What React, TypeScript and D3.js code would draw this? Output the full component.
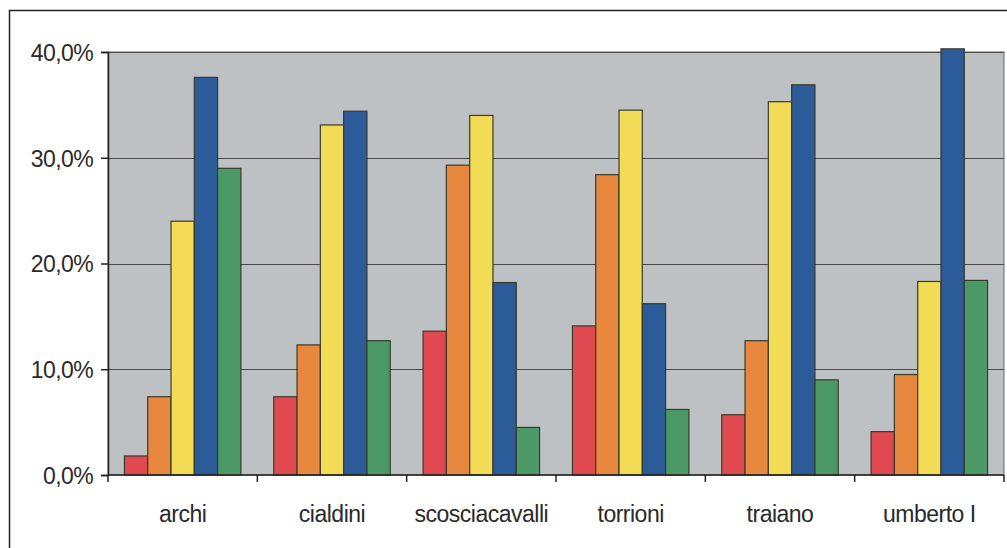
import { useEffect, useRef } from 'react'
import * as d3 from 'd3'

const categories = ['archi', 'cialdini', 'scosciacavalli', 'torrioni', 'traiano', 'umberto I']
const seriesNames = ['s1', 's2', 's3', 's4', 's5']
const seriesColors = ['#e0494f', '#e8883f', '#f2dc55', '#2b5b98', '#4b9a66']

const s1 = [1.8, 7.4, 13.6, 14.1, 5.7, 4.1]
const s2 = [7.4, 12.3, 29.3, 28.4, 12.7, 9.5]
const s3 = [24.0, 33.1, 34.0, 34.5, 35.3, 18.3]
const s4 = [37.6, 34.4, 18.2, 16.2, 36.9, 40.3]
const s5 = [29.0, 12.7, 4.5, 6.2, 9.0, 18.4]
const seriesValues = [s1, s2, s3, s4, s5]

const yTicks = [0, 10, 20, 30, 40]
const yTickLabels = ['0,0%', '10,0%', '20,0%', '30,0%', '40,0%']

const App = () => {
  const svgRef = useRef<SVGSVGElement | null>(null)

  useEffect(() => {
    if (!svgRef.current) return
    const svg = d3.select(svgRef.current)
    svg.selectAll('*').remove()

    const width = 1007
    const height = 548
    const margin = { top: 52, right: 3, bottom: 73, left: 108 }
    const innerW = width - margin.left - margin.right
    const innerH = height - margin.top - margin.bottom
    const font = '"Liberation Sans", Arial, sans-serif'

    svg.attr('width', width).attr('height', height)

    // page background + outer frame
    svg.append('rect').attr('width', width).attr('height', height).attr('fill', 'white')
    svg
      .append('path')
      .attr('d', `M9.5,${height} L9.5,10.5 L${width},10.5`)
      .attr('fill', 'none')
      .attr('stroke', '#222')
      .attr('stroke-width', 1.5)

    const g = svg.append('g').attr('transform', `translate(${margin.left},${margin.top})`)

    const x0 = d3.scaleBand().domain(categories).range([0, innerW]).paddingInner(0.22).paddingOuter(0.11)
    const x1 = d3.scaleBand().domain(seriesNames).range([0, x0.bandwidth()])
    const y = d3.scaleLinear().domain([0, 40]).range([innerH, 0])

    // plot area
    g.append('rect')
      .attr('width', innerW)
      .attr('height', innerH)
      .attr('fill', '#bec1c4')
      .attr('stroke', '#666')
      .attr('stroke-width', 1)

    // gridlines
    g.selectAll('line.grid')
      .data(yTicks.filter((t) => t > 0))
      .join('line')
      .attr('class', 'grid')
      .attr('x1', 0)
      .attr('x2', innerW)
      .attr('y1', (d) => Math.round(y(d)) + 0.5)
      .attr('y2', (d) => Math.round(y(d)) + 0.5)
      .attr('stroke', '#4a4a4a')
      .attr('stroke-width', 1.2)

    // bars
    const groups = g
      .selectAll('g.cat')
      .data(categories)
      .join('g')
      .attr('class', 'cat')
      .attr('transform', (d) => `translate(${x0(d)},0)`)

    groups
      .selectAll('rect')
      .data((_, i) => seriesValues.map((vals, k) => ({ k, v: vals[i] })))
      .join('rect')
      .attr('x', (d) => x1(seriesNames[d.k])!)
      .attr('y', (d) => y(d.v))
      .attr('width', x1.bandwidth())
      .attr('height', (d) => innerH - y(d.v))
      .attr('fill', (d) => seriesColors[d.k])
      .attr('stroke', '#3a3a2a')
      .attr('stroke-width', 1.2)

    // y axis
    const yAxis = d3
      .axisLeft(y)
      .tickValues(yTicks)
      .tickSize(7)
      .tickFormat((_, i) => yTickLabels[i])
    const yg = g.append('g').call(yAxis)
    yg.attr('font-family', font).attr('font-size', 23)
    yg.select('.domain').attr('stroke', '#222').attr('stroke-width', 1.5)
    yg.selectAll('.tick line').attr('stroke', '#222').attr('stroke-width', 1.5)
    yg.selectAll('.tick text')
      .attr('x', -15)
      .attr('dy', '0.36em')
      .attr('letter-spacing', '-0.6px')
      .attr('fill', '#2a2a2a')

    // x axis
    const xg = g.append('g').attr('transform', `translate(0,${innerH})`)
    xg.append('line')
      .attr('x1', 0)
      .attr('x2', innerW)
      .attr('stroke', '#222')
      .attr('stroke-width', 1.5)
    const step = innerW / categories.length
    xg.selectAll('line.xt')
      .data(d3.range(categories.length + 1))
      .join('line')
      .attr('class', 'xt')
      .attr('x1', (d) => d * step)
      .attr('x2', (d) => d * step)
      .attr('y1', 0)
      .attr('y2', 7)
      .attr('stroke', '#222')
      .attr('stroke-width', 1.5)
    xg.selectAll('text')
      .data(categories)
      .join('text')
      .attr('x', (d) => x0(d)! + x0.bandwidth() / 2)
      .attr('y', 47)
      .attr('text-anchor', 'middle')
      .attr('font-family', font)
      .attr('font-size', 23)
      .attr('letter-spacing', '-0.5px')
      .attr('fill', '#2a2a2a')
      .text((d) => d)
  }, [])

  return (
    <svg ref={svgRef} style={{ position: 'absolute', left: 0, top: 0 }}></svg>
  )
}

export default App
